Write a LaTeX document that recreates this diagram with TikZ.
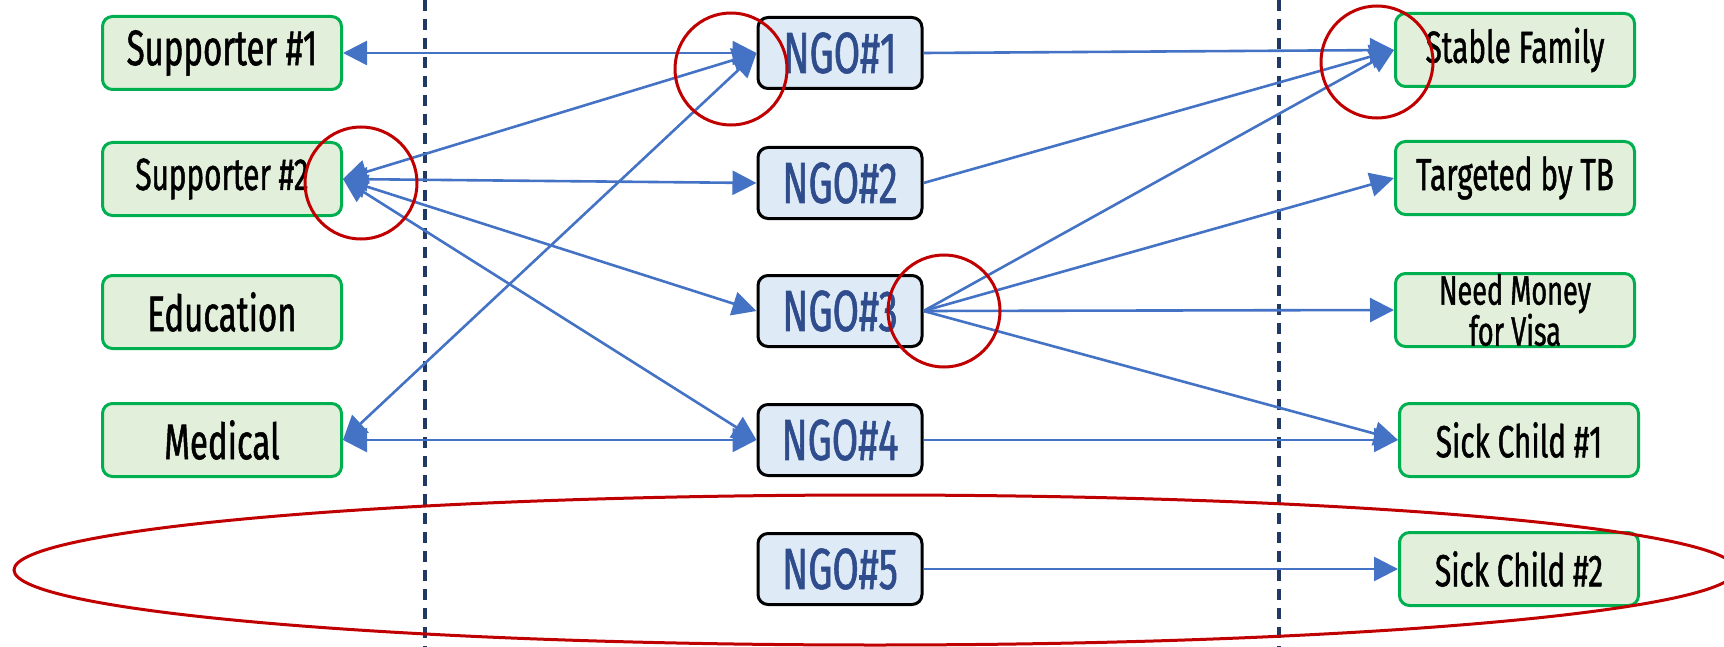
\documentclass[tikz,border=0pt]{standalone}
\usepackage{fontspec}
\setmainfont{Fira Sans}[FakeStretch=0.66,FakeBold=1.0]
\usetikzlibrary{arrows.meta}
\definecolor{gfill}{HTML}{E2EFDA}
\definecolor{gline}{HTML}{00B050}
\definecolor{bfill}{HTML}{DEEBF7}
\definecolor{ngotext}{HTML}{2F4C8C}
\definecolor{arr}{HTML}{4472C4}
\definecolor{navy}{HTML}{203864}
\definecolor{redc}{HTML}{C00000}
\begin{document}
\begin{tikzpicture}[x=0.5pt,y=-0.5pt,
 gbox/.style={draw=gline, fill=gfill, line width=1.5pt, rounded corners=5pt, minimum width=119.5pt, minimum height=36.5pt, inner sep=0pt, text=black, align=center},
 nbox/.style={draw=black, fill=bfill, line width=1.5pt, rounded corners=5pt, minimum width=82pt, minimum height=35.5pt, inner sep=0pt, text=ngotext, font=\fontsize{29}{30}\selectfont},
 bigtxt/.style={font=\fontsize{25}{26}\selectfont},
 midtxt/.style={font=\fontsize{22.5}{24}\selectfont},
 link/.style={draw=arr, line width=1.3pt, -{Triangle[length=12pt,width=12pt]}},
 both/.style={draw=arr, line width=1.3pt, {Triangle[length=12pt,width=12pt]}-{Triangle[length=12pt,width=12pt]}},
 ring/.style={draw=redc, line width=1.5pt},
 sep/.style={draw=navy, line width=1.6pt, dash pattern=on 5.5pt off 4pt}]
\useasboundingbox (0,0) rectangle (1724,647);

% separators
\coordinate (d1t) at (425,0); \coordinate (d1b) at (425,647);
\coordinate (d2t) at (1279,0); \coordinate (d2b) at (1279,647);
\draw[sep] (d1t) -- (d1b);
\draw[sep] (d2t) -- (d2b);

% left column
\node[gbox,bigtxt] (S1) at (222,53) {Supporter \#1};
\node[gbox,midtxt] (S2) at (222,179) {Supporter \#2};
\node[gbox,bigtxt] (ED) at (222,312) {Education};
\node[gbox,bigtxt] (MD) at (222,440) {Medical};

% middle column
\node[nbox] (N1) at (840,53) {NGO\#1};
\node[nbox] (N2) at (840,183) {NGO\#2};
\node[nbox] (N3) at (840,311) {NGO\#3};
\node[nbox] (N4) at (840,440) {NGO\#4};
\node[nbox] (N5) at (840,569) {NGO\#5};

% right column
\node[gbox,midtxt] (SF) at (1515,50) {Stable Family};
\node[gbox,midtxt] (TB) at (1515,178) {Targeted by TB};
\node[gbox,font=\fontsize{20.5}{20.5}\selectfont] (NM) at (1515,310) {Need Money\\for Visa};
\node[gbox,midtxt] (C1) at (1519,440) {Sick Child \#1};
\node[gbox,midtxt] (C2) at (1519,569) {Sick Child \#2};

% left connectors
\draw[both] (S1.east) -- (N1.west);
\draw[both] (S2.east) -- (N1.west);
\draw[both] (MD.east) -- (N1.west);
\draw[both] (S2.east) -- (N2.west);
\draw[both] (S2.east) -- (N3.west);
\draw[both] (S2.east) -- (N4.west);
\draw[both] (MD.east) -- (N4.west);

% right connectors
\draw[link] (N1.east) -- (SF.west);
\draw[link] (N2.east) -- (SF.west);
\draw[link] (N3.east) -- (SF.west);
\draw[link] (N3.east) -- (TB.west);
\draw[link] (N3.east) -- (NM.west);
\draw[link] (N3.east) -- (C1.west);
\draw[link] (N4.east) -- (C1.west);
\draw[link] (N5.east) -- (C2.west);

% highlights
\draw[ring] (731,69) circle[radius=56];
\draw[ring] (361,183) circle[radius=56];
\draw[ring] (1377,62) circle[radius=56];
\draw[ring] (944,311) circle[radius=56];
\draw[ring] (875,570) ellipse[x radius=861, y radius=75];
\end{tikzpicture}
\end{document}
